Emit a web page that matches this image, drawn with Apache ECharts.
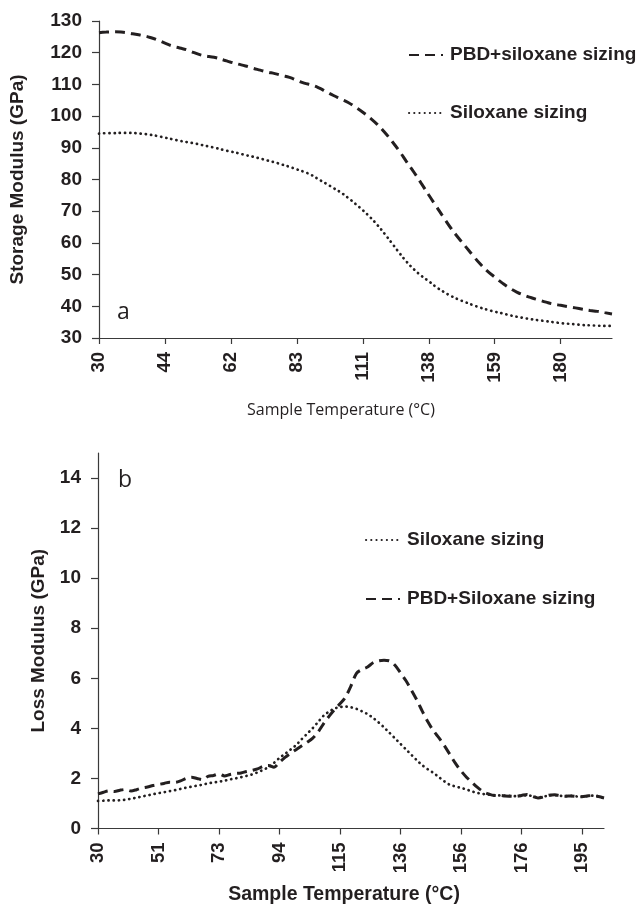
<!DOCTYPE html>
<html>
<head>
<meta charset="utf-8">
<script src="https://cdn.jsdelivr.net/npm/echarts@6/dist/echarts.min.js"></script>
<style>
html,body{margin:0;padding:0;background:#fff;}
#c{width:638px;height:906px;}
</style>
</head>
<body>
<div id="c"></div>
<script>
// ---- Panel a: Storage modulus ----
const topTickLabels = ['30','44','62','83','111','138','159','180'];
const topPBD = [126.3,126.5,126.6,126.5,126.2,125.8,125.4,124.8,124.0,123.0,
  122.1,121.5,120.9,120.0,119.2,118.8,118.4,117.7,117.0,116.4,
  115.8,115.1,114.5,113.9,113.4,112.8,112.2,111.3,110.4,109.8,
  108.9,107.7,106.5,105.4,104.3,102.8,101.2,99.4,97.3,94.8,
  92.0,88.9,85.5,82.2,78.7,75.1,71.6,68.1,64.7,61.7,
  58.9,56.1,53.4,51.1,49.2,47.4,45.8,44.5,43.5,42.7,
  42.0,41.3,40.7,40.3,39.9,39.5,39.1,38.7,38.4,38.0,37.6];
const topSiloxane = [94.5,94.6,94.6,94.7,94.7,94.6,94.4,94.1,93.7,93.2,
  92.7,92.2,91.8,91.4,90.9,90.4,89.9,89.3,88.8,88.3,
  87.7,87.2,86.6,86.0,85.4,84.7,84.0,83.2,82.4,81.4,
  80.0,78.7,77.3,75.9,74.2,72.3,70.3,68.1,65.6,62.8,
  59.8,56.8,54.0,51.6,49.6,47.9,46.1,44.6,43.3,42.2,
  41.3,40.4,39.6,38.9,38.3,37.8,37.2,36.7,36.3,35.9,
  35.6,35.3,35.0,34.7,34.5,34.3,34.1,34.0,33.9,33.8,33.8];

// ---- Panel b: Loss modulus ----
const botTickLabels = ['30','51','73','94','115','136','156','176','195'];
const botSiloxane = [1.10,1.11,1.12,1.12,1.13,1.15,1.19,1.23,1.28,1.32,
  1.37,1.41,1.45,1.49,1.53,1.58,1.63,1.67,1.71,1.75,
  1.80,1.84,1.87,1.91,1.96,2.00,2.05,2.10,2.16,2.24,
  2.34,2.45,2.62,2.82,2.98,3.15,3.33,3.56,3.78,4.00,
  4.25,4.50,4.67,4.79,4.85,4.87,4.84,4.78,4.68,4.57,
  4.42,4.24,4.04,3.82,3.60,3.38,3.16,2.94,2.72,2.52,
  2.36,2.22,2.05,1.88,1.74,1.68,1.62,1.56,1.48,1.42,
  1.38,1.35,1.33,1.32,1.31,1.30,1.29,1.31,1.33,1.29,
  1.24,1.27,1.32,1.34,1.31,1.29,1.30,1.28,1.27,1.30,
  1.31,1.28,1.21];
const botPBD = [1.38,1.45,1.50,1.48,1.53,1.56,1.50,1.55,1.62,1.66,
  1.72,1.76,1.80,1.85,1.84,1.90,2.00,2.05,2.00,1.95,
  2.08,2.12,2.18,2.10,2.16,2.20,2.22,2.28,2.32,2.38,
  2.48,2.52,2.45,2.65,2.84,3.00,3.15,3.30,3.44,3.60,
  3.85,4.18,4.48,4.75,4.98,5.25,5.70,6.20,6.35,6.45,
  6.62,6.70,6.72,6.70,6.52,6.22,5.90,5.52,5.12,4.67,
  4.25,3.90,3.62,3.30,2.95,2.60,2.30,2.05,1.84,1.64,
  1.48,1.38,1.32,1.32,1.30,1.29,1.28,1.32,1.36,1.28,
  1.22,1.26,1.33,1.35,1.31,1.29,1.30,1.28,1.27,1.30,
  1.32,1.28,1.22];

const topStep = 9;   // data points per labelled tick (panel a)
const botStep = 11;  // data points per labelled tick (panel b)

const INK = '#231f20';
const AXIS = '#3a3a3a';
const boldFont = 'Liberation Sans';

function idxTicks(labels, step){ return labels.map((_, i) => i * step); }
function pairs(arr){ return arr.map((v, i) => [i, v]); }

const dashStyle = {color: INK, width: 3, type: [10, 6], cap: 'butt'};
const dotStyle = {color: INK, width: 2.7, type: [0.2, 5], cap: 'round'};

const chart = echarts.init(document.getElementById('c'), null, {renderer: 'canvas'});

const xCommon = (labels, step, max, gridIndex) => ({
  type: 'value', gridIndex, min: 0, max,
  axisLine: {show: true, onZero: false, lineStyle: {color: AXIS, width: 1.2}},
  axisTick: {show: true, length: 6, lineStyle: {color: AXIS, width: 1.2}, customValues: idxTicks(labels, step)},
  axisLabel: {
    customValues: idxTicks(labels, step),
    rotate: 90, margin: 14, color: INK, fontFamily: boldFont, fontWeight: 'bold', fontSize: 18.5,
    formatter: v => labels[Math.round(v / step)] ?? ''
  },
  splitLine: {show: false}
});

const legendCommon = {
  orient: 'vertical', itemWidth: 34, itemHeight: 14, selectedMode: false,
  itemStyle: {opacity: 0},
  textStyle: {color: INK, fontFamily: boldFont, fontWeight: 'bold', fontSize: 19, padding: [0,0,0,2]}
};

const option = {
  animation: false,
  backgroundColor: '#fff',
  grid: [
    {left: 99, top: 21, width: 513, height: 317},
    {left: 98, top: 453, width: 506, height: 375.5}
  ],
  xAxis: [
    xCommon(topTickLabels, topStep, topPBD.length - 1, 0),
    xCommon(botTickLabels, botStep, botPBD.length - 1, 1)
  ],
  yAxis: [
    {
      type: 'value', gridIndex: 0, min: 30, max: 130, interval: 10,
      name: 'Storage Modulus (GPa)', nameLocation: 'middle', nameGap: 72,
      nameTextStyle: {color: INK, fontFamily: boldFont, fontWeight: 'bold', fontSize: 19},
      axisLine: {show: true, lineStyle: {color: AXIS, width: 1.2}},
      axisTick: {show: true, length: 7, lineStyle: {color: AXIS, width: 1.2}},
      axisLabel: {margin: 17, color: INK, fontFamily: boldFont, fontWeight: 'bold', fontSize: 19},
      splitLine: {show: false}
    },
    {
      type: 'value', gridIndex: 1, min: 0, max: 15,
      name: 'Loss Modulus (GPa)', nameLocation: 'middle', nameGap: 50,
      nameTextStyle: {color: INK, fontFamily: boldFont, fontWeight: 'bold', fontSize: 19},
      axisLine: {show: true, lineStyle: {color: AXIS, width: 1.2}},
      axisTick: {show: true, length: 7, lineStyle: {color: AXIS, width: 1.2}, customValues: [0,2,4,6,8,10,12,14]},
      axisLabel: {customValues: [0,2,4,6,8,10,12,14], margin: 17, color: INK, fontFamily: boldFont, fontWeight: 'bold', fontSize: 19},
      splitLine: {show: false}
    }
  ],
  legend: [
    Object.assign({}, legendCommon, {
      data: ['PBD+siloxane sizing', 'Siloxane sizing'],
      left: 403, top: 40.5, itemGap: 39
    }),
    Object.assign({}, legendCommon, {
      data: ['Siloxane sizing', 'PBD+Siloxane sizing'],
      left: 360, top: 525.5, itemGap: 40
    })
  ],
  series: [
    {name: 'PBD+siloxane sizing', type: 'line', xAxisIndex: 0, yAxisIndex: 0, data: pairs(topPBD),
     smooth: true, symbol: 'none', lineStyle: dashStyle, itemStyle: {color: INK}},
    {name: 'Siloxane sizing', type: 'line', xAxisIndex: 0, yAxisIndex: 0, data: pairs(topSiloxane),
     smooth: true, symbol: 'none', lineStyle: dotStyle, itemStyle: {color: INK}},
    {name: 'Siloxane sizing', type: 'line', xAxisIndex: 1, yAxisIndex: 1, data: pairs(botSiloxane),
     smooth: 0.3, symbol: 'none', lineStyle: dotStyle, itemStyle: {color: INK}},
    {name: 'PBD+Siloxane sizing', type: 'line', xAxisIndex: 1, yAxisIndex: 1, data: pairs(botPBD),
     smooth: 0.3, symbol: 'none', lineStyle: dashStyle, itemStyle: {color: INK}}
  ],
  graphic: [
    {type: 'text', x: 341, y: 410, style: {text: 'Sample Temperature (°C)', font: '16px "Open Sans"', fill: INK, align: 'center', verticalAlign: 'middle'}},
    {type: 'text', x: 344, y: 895, style: {text: 'Sample Temperature (°C)', font: 'bold 19.5px "Liberation Sans"', fill: INK, align: 'center', verticalAlign: 'middle'}},
    {type: 'text', x: 117, y: 312, style: {text: 'a', font: '23px "Open Sans"', fill: INK, align: 'left', verticalAlign: 'middle'}},
    {type: 'text', x: 118, y: 480, style: {text: 'b', font: '23px "Open Sans"', fill: INK, align: 'left', verticalAlign: 'middle'}}
  ]
};
chart.setOption(option);
</script>
</body>
</html>
